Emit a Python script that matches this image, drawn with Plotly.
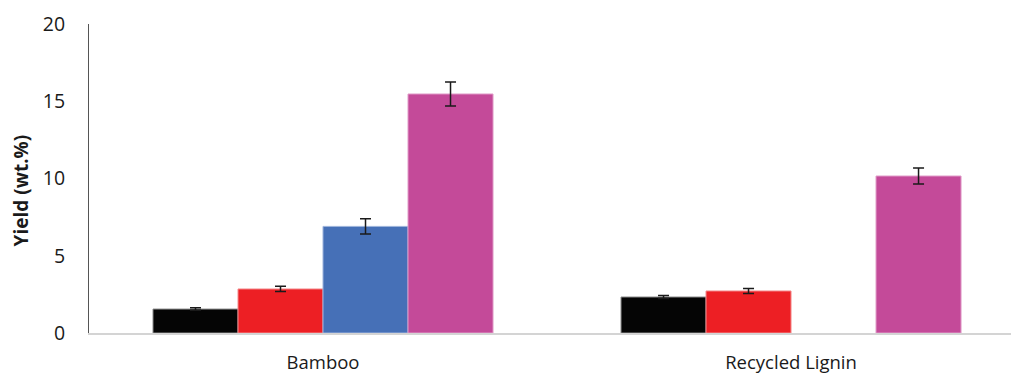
import plotly.graph_objects as go

# Feedstocks on the category axis
categories = ["Bamboo", "Recycled Lignin"]

# Product yields (wt.%) and their standard deviations, one list per series
series_names = ["Series 1", "Series 2", "Series 3", "Series 4"]
yield_s1 = [1.55, 2.33]
yield_s2 = [2.85, 2.72]
yield_s3 = [6.9, None]
yield_s4 = [15.47, 10.16]
err_s1 = [0.08, 0.1]
err_s2 = [0.17, 0.16]
err_s3 = [0.5, None]
err_s4 = [0.78, 0.52]

values = [yield_s1, yield_s2, yield_s3, yield_s4]
errors = [err_s1, err_s2, err_s3, err_s4]
colors = ["#050505", "#ED1F24", "#4670B7", "#C44A99"]
outlines = ["#8a8a8a", "#F48A8C", "#9DB3DC", "#E09AC8"]

fig = go.Figure()
for name, v, e, c, oc in zip(series_names, values, errors, colors, outlines):
    fig.add_trace(go.Bar(
        x=categories, y=v, name=name,
        marker=dict(color=c, line=dict(color=oc, width=1)),
        error_y=dict(type="data", array=e, visible=True,
                     color="#1a1a1a", thickness=1.5, width=5.5),
    ))

fig.update_layout(
    width=1011, height=374,
    margin=dict(l=89, r=0, t=24, b=41),
    paper_bgcolor="white", plot_bgcolor="white",
    barmode="group", bargap=0.2735, bargroupgap=0,
    showlegend=False,
    font=dict(family="Open Sans", color="#1a1a1a"),
    xaxis=dict(
        range=[-0.5, 1.47], showgrid=False, ticks="",
        showline=True, linecolor="#d4d4d4", linewidth=1.5,
        tickfont=dict(size=18.5), ticklabelstandoff=12, zeroline=False,
    ),
    yaxis=dict(
        range=[0, 20], tickvals=[0, 5, 10, 15, 20], showgrid=False,
        ticks="", showline=True, linecolor="#555555", linewidth=1,
        tickfont=dict(size=19.5), ticklabelstandoff=19, zeroline=False,
    ),
)

# Vertical axis title, set slightly below the plot's middle
fig.add_annotation(
    text="<b>Yield (wt.%)</b>", textangle=-90, showarrow=False,
    xref="paper", yref="paper", x=-0.0743, y=0.463,
    xanchor="center", yanchor="middle", font=dict(size=19),
)

fig.write_html("out.html")
